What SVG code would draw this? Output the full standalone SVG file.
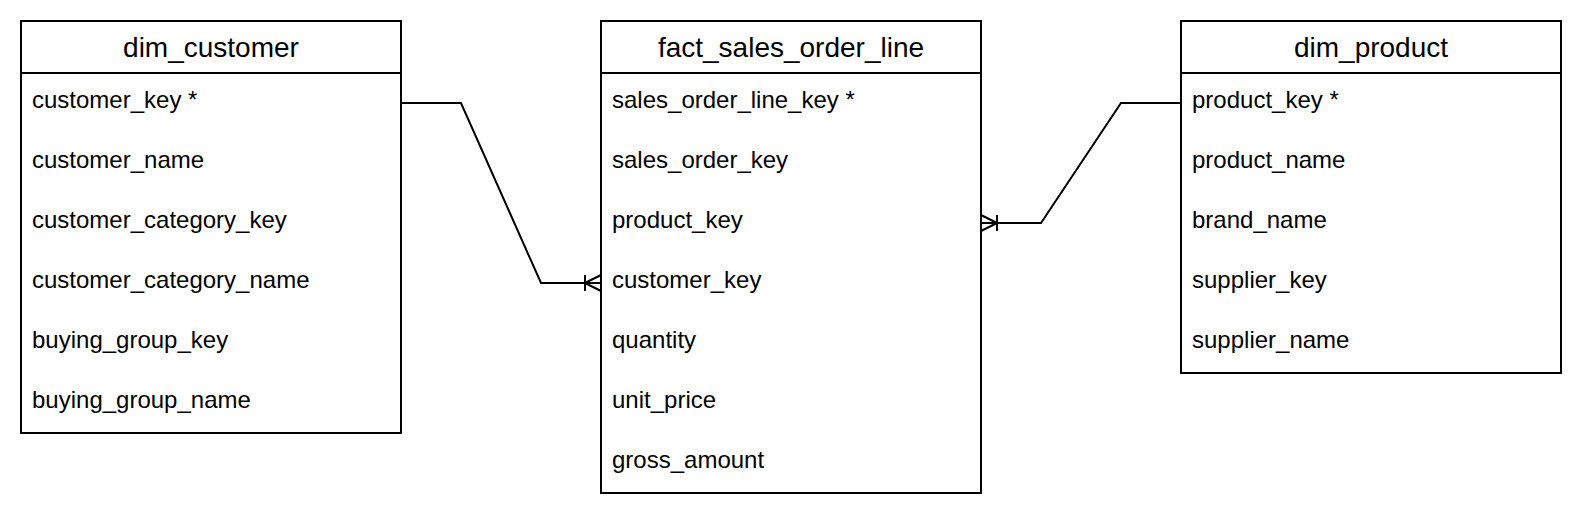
<svg xmlns="http://www.w3.org/2000/svg" width="1582" height="520" viewBox="0 0 1582 520">
  <style>
    .box { fill: #ffffff; stroke: #000000; stroke-width: 2; }
    .div { stroke: #000000; stroke-width: 2; }
    .title { font-family: "Liberation Sans", Arial, sans-serif; font-size: 28px; fill: #000000; text-anchor: middle; }
    .field { font-family: "Liberation Sans", Arial, sans-serif; font-size: 24px; fill: #000000; }
    .edge { fill: none; stroke: #000000; stroke-width: 2; }
  </style>
  <defs>
    <marker id="crowMany" markerUnits="userSpaceOnUse" viewBox="-18 -10 20 20" refX="0" refY="0" markerWidth="20" markerHeight="20" orient="auto" overflow="visible">
      <path d="M-16,-8 L-16,8 M-16,0 L0,-8 M-16,0 L0,8" fill="none" stroke="#000000" stroke-width="2"/>
    </marker>
  </defs>
  <rect width="1582" height="520" fill="#ffffff"/>

  <g id="dim_customer">
    <rect class="box" x="21" y="21" width="380" height="412"/>
    <line class="div" x1="21" y1="73" x2="401" y2="73"/>
    <text class="title" x="211" y="57">dim_customer</text>
    <text class="field" x="32" y="107.5">customer_key *</text>
    <text class="field" x="32" y="167.5">customer_name</text>
    <text class="field" x="32" y="227.5">customer_category_key</text>
    <text class="field" x="32" y="287.5">customer_category_name</text>
    <text class="field" x="32" y="347.5">buying_group_key</text>
    <text class="field" x="32" y="407.5">buying_group_name</text>
  </g>

  <g id="fact_sales_order_line">
    <rect class="box" x="601" y="21" width="380" height="472"/>
    <line class="div" x1="601" y1="73" x2="981" y2="73"/>
    <text class="title" x="791" y="57">fact_sales_order_line</text>
    <text class="field" x="612" y="107.5">sales_order_line_key *</text>
    <text class="field" x="612" y="167.5">sales_order_key</text>
    <text class="field" x="612" y="227.5">product_key</text>
    <text class="field" x="612" y="287.5">customer_key</text>
    <text class="field" x="612" y="347.5">quantity</text>
    <text class="field" x="612" y="407.5">unit_price</text>
    <text class="field" x="612" y="467.5">gross_amount</text>
  </g>

  <g id="dim_product">
    <rect class="box" x="1181" y="21" width="380" height="352"/>
    <line class="div" x1="1181" y1="73" x2="1561" y2="73"/>
    <text class="title" x="1371" y="57">dim_product</text>
    <text class="field" x="1192" y="107.5">product_key *</text>
    <text class="field" x="1192" y="167.5">product_name</text>
    <text class="field" x="1192" y="227.5">brand_name</text>
    <text class="field" x="1192" y="287.5">supplier_key</text>
    <text class="field" x="1192" y="347.5">supplier_name</text>
  </g>

  <g id="connectors">
    <path class="edge" d="M401,103 L461,103 L541,283 L601,283" marker-end="url(#crowMany)"/>
    <path class="edge" d="M1181,103 L1121,103 L1041,223 L981,223" marker-end="url(#crowMany)"/>
  </g>
</svg>
